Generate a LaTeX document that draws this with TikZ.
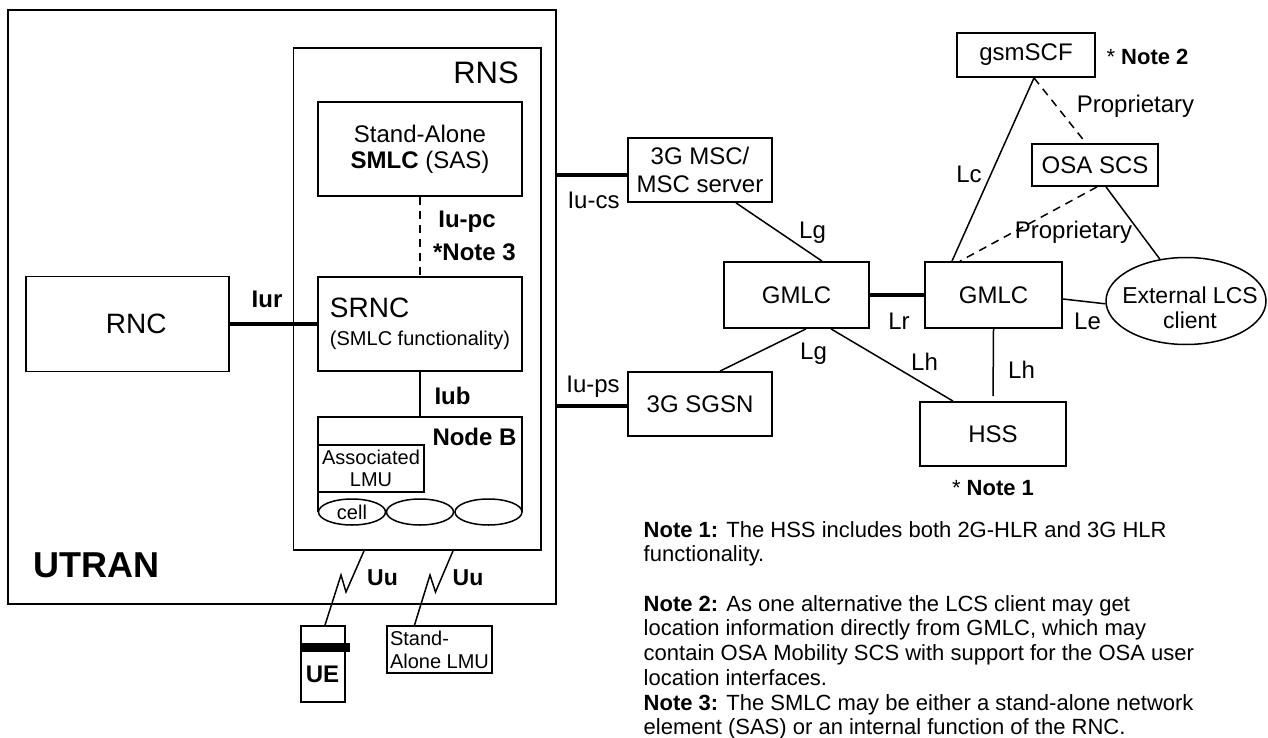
\documentclass[tikz,border=0pt]{standalone}
\usepackage{fontspec}
\setmainfont{Liberation Sans}
\usetikzlibrary{shapes.geometric}
\newcommand{\fsz}[2]{\fontsize{#1}{#2}\selectfont}

\begin{document}
\begin{tikzpicture}[x=1pt, y=-1pt,
  every node/.style={font=\fsz{24}{28}, inner sep=0pt},
  frame/.style={line width=1.8pt},
  box/.style={draw, frame, align=center},
  cellshape/.style={draw, line width=1.5pt, ellipse, minimum width=67pt, minimum height=26pt, font=\fsz{20}{22}},
  link/.style={line width=1.5pt},
  trunk/.style={line width=3.5pt},
  ifdash/.style={line width=1.5pt, dash pattern=on 8pt off 6pt},
  ifname/.style={font=\fsz{24}{28}\bfseries}]
\useasboundingbox (0,0) rectangle (1268,738);

% UTRAN and RNS
\node[box, minimum width=548pt, minimum height=594pt] (utran) at (282,307) {};
\node[font=\fsz{36}{40}\bfseries] (utranlbl) at (96.5,565) {UTRAN};
\node[box, minimum width=247.5pt, minimum height=502pt] (rns) at (417.25,299) {};
\node[font=\fsz{31}{34}] (rnslbl) at (486,72.5) {RNS};
\node[box, minimum width=204pt, minimum height=94pt, font=\fsz{24}{26}] (sas) at (420,149) {Stand-Alone\\\textbf{SMLC} (SAS)};
\node[box, minimum width=204pt, minimum height=94pt, align=left] (srnc) at (420,324) {{\fsz{28}{30}SRNC}\\{\fsz{20}{26}(SMLC functionality)}};
\node[box, minimum width=203.4pt, minimum height=95pt, font=\fsz{28}{32}] (rnc) at (127.3,324) {\hspace*{18pt}RNC};

% Node B with cells
\draw[frame] (318,512) |- (522,417) -- (522,512);
\coordinate (nodebtop) at (420,417);
\node[ifname] (nodeblbl) at (474.5,437) {Node B};
\node[box, minimum width=106pt, minimum height=47pt, font=\fsz{20}{22}] (alm) at (371,468.5) {Associated\\LMU};
\node[cellshape] (cella) at (352,512) {cell};
\node[cellshape] (cellb) at (420,512) {};
\node[cellshape] (cellc) at (488.5,512) {};

% interfaces inside UTRAN
\draw[ifdash] (sas.south) -- (srnc.north);
\node[ifname] (iupc) at (467,221.5) {Iu-pc};
\node[ifname] (note3mark) at (474.5,252.5) {*Note 3};
\draw[trunk] (rnc.east) -- (srnc.west);
\node[ifname] (iur) at (267,299) {Iur};
\draw[link] (srnc.south) -- (nodebtop);
\node[ifname] (iub) at (452.5,396) {Iub};

% terminals on the radio side
\node[box, minimum width=44pt, minimum height=76pt] (ue) at (323,664) {};
\fill ([yshift=-18pt]ue.north west) rectangle ([xshift=4pt,yshift=-27pt]ue.north east);
\node[ifname] (uelbl) at (322.5,674) {UE};
\node[box, minimum width=105pt, minimum height=47pt, align=left, font=\fsz{20}{23}] (salmu) at (439.5,649.5) {Stand-\\Alone LMU};
\draw[link] ([xshift=-53.25pt]rns.south) -- (346,592) -- (341,575) -- ([xshift=2pt]ue.north);
\draw[link] ([xshift=35.75pt]rns.south) -- (435.5,592) -- (430,575) -- ([xshift=-25pt]salmu.north);
\node[ifname, font=\fsz{23}{26}\bfseries] (uua) at (382.5,578) {Uu};
\node[ifname, font=\fsz{23}{26}\bfseries] (uub) at (468,578) {Uu};

% core network
\node[box, minimum width=144pt, minimum height=64pt] (msc) at (700,170) {3G MSC/\\MSC server};
\node[box, minimum width=144pt, minimum height=64pt] (sgsn) at (700,404) {3G SGSN};
\node[box, minimum width=145pt, minimum height=66pt] (gmlca) at (796.5,295) {GMLC};
\node[box, minimum width=137pt, minimum height=66pt] (gmlcb) at (993.5,295) {GMLC};
\node[box, minimum width=146pt, minimum height=64pt] (hss) at (993,434) {HSS};
\node[box, minimum width=138pt, minimum height=44pt] (scf) at (1026,55) {gsmSCF};
\node[box, minimum width=126pt, minimum height=42pt] (osa) at (1095,165) {OSA SCS};
\node[draw, ellipse, line width=1.5pt, minimum width=160pt, minimum height=87pt] (lcs) at (1186,301) {};
\node[align=center, font=\fsz{23}{25}] (lcstxt) at (1190,307.5) {External LCS\\client};
\node[font=\fsz{22}{26}] (note2mark) at (1147.5,56.5) {* \textbf{Note 2}};
\node[font=\fsz{22}{26}] (note1mark) at (993,488.5) {* \textbf{Note 1}};

\coordinate (iucs) at ([yshift=-5pt]msc.west);
\draw[trunk] (iucs -| utran.east) -- (iucs);
\node (iucslbl) at (593.5,200) {Iu-cs};
\coordinate (iups) at ([yshift=-2pt]sgsn.west);
\draw[trunk] (iups -| utran.east) -- (iups);
\node (iupslbl) at (593,386.5) {Iu-ps};
\draw[link] ([xshift=36pt]msc.south) -- ([xshift=25.5pt]gmlca.north);
\node (lga) at (812.5,233) {Lg};
\draw[trunk] (gmlca.east) -- (gmlcb.west);
\node (lr) at (899,321.5) {Lr};
\draw[link] ([xshift=9.5pt]gmlca.south) -- ([xshift=20pt]sgsn.north);
\node (lgb) at (813.5,354) {Lg};
\draw[link] ([xshift=34.5pt]gmlca.south) -- ([xshift=-40pt]hss.north);
\node (lha) at (924.5,361.5) {Lh};
\draw[link, shorten >=5pt] (gmlcb.south) -- (hss.north);
\node (lhb) at (1021.5,370) {Lh};
\draw[link] ([xshift=8pt]scf.south) -- ([xshift=-41.5pt]gmlcb.north);
\node (lc) at (969,174) {Lc};
\draw[ifdash] ([xshift=8pt]scf.south) -- ([xshift=-9pt]osa.north);
\node (propa) at (1135.5,106.5) {Proprietary};
\draw[ifdash] ([xshift=2pt]osa.south) -- ([xshift=-33.5pt]gmlcb.north);
\node (propb) at (1073.5,232.5) {Proprietary};
\draw[link] ([xshift=11pt]osa.south) -- (lcs.122);
\draw[link] ([yshift=-4pt]gmlcb.east) -- (lcs.182);
\node (le) at (1087.5,321.5) {Le};

% notes
\node[anchor=north west, align=left, font=\fsz{22}{24.7}] (notes) at (643.5,521) {\textbf{Note 1:} The HSS includes both 2G-HLR and 3G HLR\\functionality.\\[24.7pt]\textbf{Note 2:} As one alternative the LCS client may get\\location information directly from GMLC, which may\\contain OSA Mobility SCS with support for the OSA user\\location interfaces.\\\textbf{Note 3:} The SMLC may be either a stand-alone network\\element (SAS) or an internal function of the RNC.};
\end{tikzpicture}
\end{document}
